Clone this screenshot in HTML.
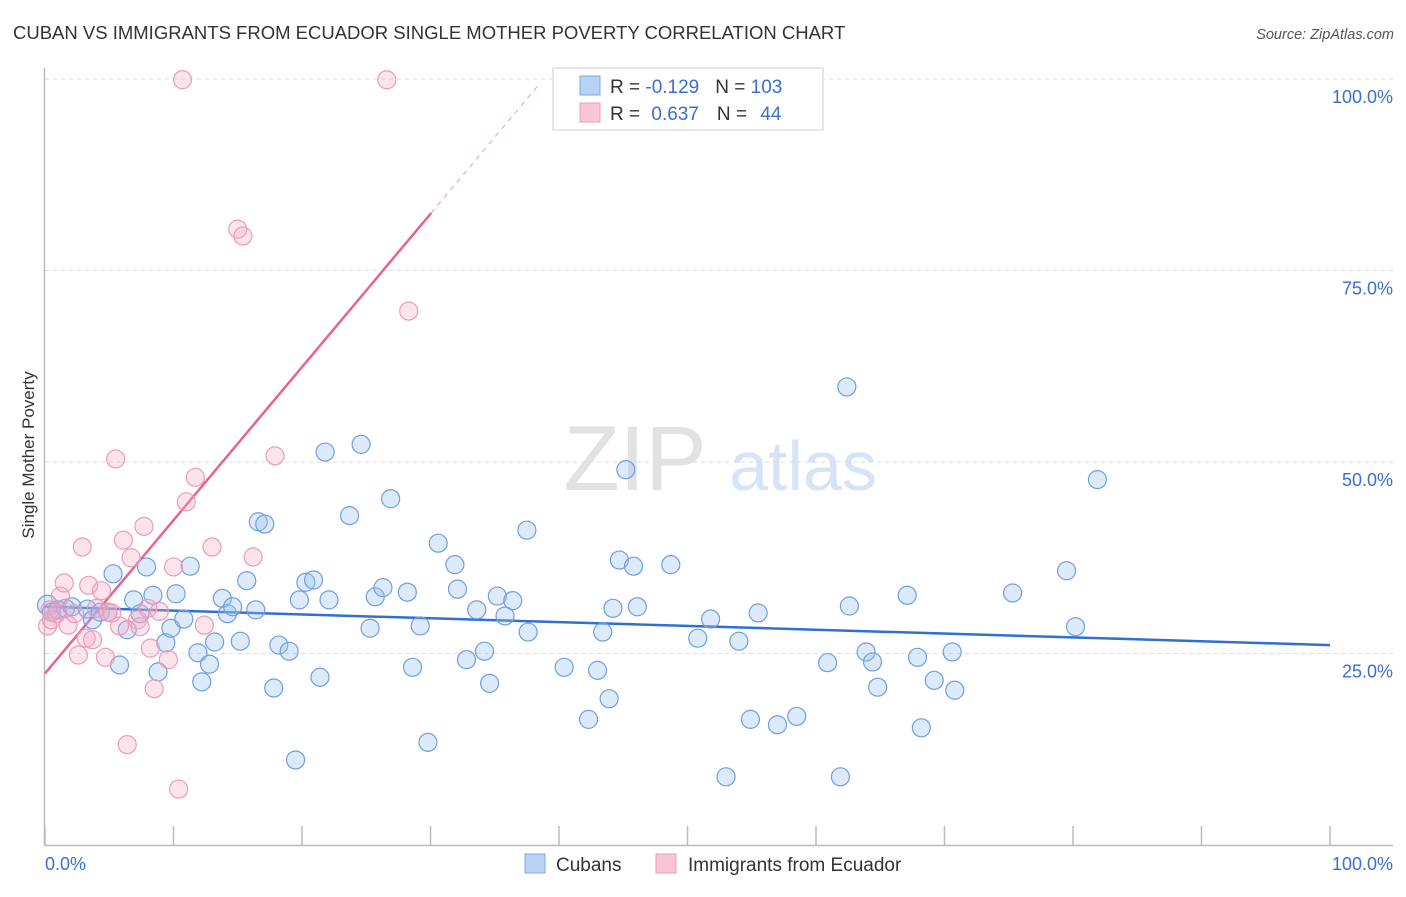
<!DOCTYPE html>
<html><head><meta charset="utf-8"><style>
body{margin:0;background:#fff;font-family:"Liberation Sans",sans-serif;}
svg text{font-family:"Liberation Sans",sans-serif;}
</style></head><body>
<svg id="chart" width="1406" height="892" xmlns="http://www.w3.org/2000/svg">
<text x="13" y="39" font-size="18.5" fill="#333">CUBAN VS IMMIGRANTS FROM ECUADOR SINGLE MOTHER POVERTY CORRELATION CHART</text>
<text x="1394" y="39" font-size="14.5" fill="#555" text-anchor="end" font-style="italic">Source: ZipAtlas.com</text>
<text transform="translate(34,455) rotate(-90)" font-size="17" fill="#333" text-anchor="middle">Single Mother Poverty</text>
<g>
<text x="635" y="490" font-size="92" fill="#e2e2e2" text-anchor="middle" font-family="Liberation Serif" >ZIP</text>
<text x="803" y="490" font-size="70" fill="#d6e4f6" text-anchor="middle">atlas</text>
</g>
<g id="grid"></g><g id="axes"></g><g id="lines"></g><g id="points"></g>
<g>
<rect x="553" y="68" width="270" height="62" fill="#fff" stroke="#ccc"/>
<rect x="580" y="76" width="20" height="19" fill="#b8d2f4" stroke="#7ea9e4"/>
<rect x="580" y="103" width="20" height="19" fill="#f8c6d6" stroke="#ee9cb8"/>
<text x="610" y="93" font-size="19" fill="#333">R = <tspan fill="#3a6fd0">-0.129</tspan><tspan dx="16">N = </tspan><tspan fill="#3a6fd0">103</tspan></text>
<text x="610" y="120" font-size="19" fill="#333">R = <tspan fill="#3a6fd0" dx="6">0.637</tspan><tspan dx="18">N = </tspan><tspan fill="#3a6fd0" dx="8">44</tspan></text>
</g>
<g>
<rect x="525" y="854" width="20" height="19" fill="#b8d2f4" stroke="#7ea9e4"/>
<text x="556" y="871" font-size="19" fill="#333">Cubans</text>
<rect x="656" y="854" width="20" height="19" fill="#f8c6d6" stroke="#ee9cb8"/>
<text x="688" y="871" font-size="19" fill="#333">Immigrants from Ecuador</text>
</g>
</svg>
<script>
const blueX=[0.2,0.5,1.0,1.6,2.1,3.3,3.7,4.3,4.9,5.3,5.8,6.4,6.9,7.4,7.9,8.4,8.8,9.4,9.8,10.2,10.8,11.3,11.9,12.2,12.8,13.2,13.8,14.2,14.6,15.2,15.7,16.4,16.6,17.1,17.8,18.2,19.0,19.5,19.8,20.3,20.9,21.4,21.8,22.1,23.7,24.6,25.3,25.7,26.3,26.9,28.2,28.6,29.2,29.8,30.6,31.9,32.1,32.8,33.6,34.2,34.6,35.2,35.8,36.4,37.5,37.6,40.4,42.3,43.0,43.4,43.9,44.2,44.7,45.2,45.8,46.1,48.7,50.8,51.8,53.0,54.0,54.9,55.5,57.0,58.5,60.9,61.9,62.4,62.6,63.9,64.4,64.8,67.1,67.9,68.2,69.2,70.6,70.8,75.3,79.5,80.2,81.9];
const blueY=[31.3,30.4,30.7,30.9,31.1,30.8,29.4,30.4,30.4,35.4,23.5,28.1,32.0,30.2,36.3,32.6,22.6,26.4,28.3,32.8,29.5,36.4,25.1,21.3,23.6,26.5,32.2,30.2,31.1,26.6,34.5,30.7,42.2,41.9,20.5,26.1,25.3,11.1,32.0,34.3,34.6,21.9,51.3,32.0,43.0,52.3,28.3,32.4,33.6,45.2,33.0,23.2,28.6,13.4,39.4,36.6,33.4,24.2,30.7,25.3,21.1,32.5,29.9,31.9,41.1,27.8,23.2,16.4,22.8,27.8,19.1,30.9,37.2,49.0,36.4,31.1,36.6,27.0,29.5,8.9,26.6,16.4,30.3,15.7,16.8,23.8,8.9,59.8,31.2,25.2,23.9,20.6,32.6,24.5,15.3,21.5,25.2,20.2,32.9,35.8,28.5,47.7];
const pinkX=[0.2,0.4,0.5,0.9,1.2,1.5,1.8,2.3,2.6,2.9,3.2,3.4,3.7,4.0,4.4,4.7,4.9,5.2,5.5,5.8,6.1,6.4,6.7,7.2,7.4,7.7,8.0,8.2,8.5,8.9,9.6,10.0,10.4,10.7,11.0,11.7,12.4,13.0,15.0,15.4,16.2,17.9,26.6,28.3];
const pinkY=[28.6,30.7,29.4,30.2,32.5,34.2,28.7,30.2,24.8,38.9,27.0,33.9,26.8,30.9,33.2,24.5,30.4,30.3,50.4,28.6,39.8,13.1,37.5,29.4,28.5,41.6,30.9,25.7,20.4,30.5,24.2,36.3,7.3,99.9,44.8,48.0,28.7,38.9,80.4,79.5,37.6,50.8,99.9,69.7];
const blueTrend=[31.1,26.1];
const pinkTrend=[22.4,2.0];
const yTicks=[25,50,75,100];
const xTickVals=[0,10,20,30,40,50,60,70,80,90,100];

const NS="http://www.w3.org/2000/svg";
const sx=v=>45+v*12.85, sy=v=>845-v*7.66;
function mk(tag,attrs,parent){const e=document.createElementNS(NS,tag);for(const k in attrs)e.setAttribute(k,attrs[k]);parent.appendChild(e);return e;}
const grid=document.getElementById('grid'),axes=document.getElementById('axes'),lines=document.getElementById('lines'),pts=document.getElementById('points');
yTicks.forEach(t=>{
 const l=mk('line',{x1:45,x2:1393,y1:sy(t),y2:sy(t),stroke:'#ddd','stroke-dasharray':'4,4'},grid);
 
 
 const tx=mk('text',{x:1393,y:sy(t)+24,'font-size':18,fill:'#3a6fd0','text-anchor':'end'},grid);
 tx.textContent=t.toFixed(1)+'%';
 
 
});
const ax=mk('path',{d:'M44.5 68 V845.5 H1393',stroke:'#bbb',fill:'none','stroke-width':1.5},axes);


xTickVals.forEach(t=>{
 const l=mk('line',{x1:sx(t),x2:sx(t),y1:826,y2:845,stroke:'#bbb','stroke-width':1.5},axes);
 
 
});
[[0,'start',45],[100,'end',1393]].forEach(([v,a,x])=>{
 const tx=mk('text',{x:x,y:870,'font-size':18,fill:'#3a6fd0','text-anchor':a},axes);
 tx.textContent=v.toFixed(1)+'%';
 
 
});
const bl=mk('line',{x1:sx(0),y1:sy(blueTrend[0]),x2:sx(100),y2:sy(blueTrend[1]),stroke:'#2f6fd6','stroke-width':2.5},lines);


const pEnd=(82.5-pinkTrend[0])/pinkTrend[1], dEnd=(99.5-pinkTrend[0])/pinkTrend[1];
const pl=mk('line',{x1:sx(0),y1:sy(pinkTrend[0]),x2:sx(pEnd),y2:sy(pinkTrend[0]+pinkTrend[1]*pEnd),stroke:'#e8648e','stroke-width':2.5},lines);


const pd=mk('line',{x1:sx(pEnd),y1:sy(pinkTrend[0]+pinkTrend[1]*pEnd),x2:sx(dEnd),y2:sy(pinkTrend[0]+pinkTrend[1]*dEnd),stroke:'#eeaabf','stroke-width':1.2,'stroke-dasharray':'5,5'},lines);


blueX.forEach((x,i)=>{
 const c=mk('circle',{cx:sx(x),cy:sy(blueY[i]),r:i===0?10:9,fill:'rgba(150,190,240,0.33)',stroke:'#6f9fe0','stroke-width':1.2},pts);
 
 
});
pinkX.forEach((x,i)=>{
 const c=mk('circle',{cx:sx(x),cy:sy(pinkY[i]),r:9,fill:'rgba(245,170,195,0.32)',stroke:'#ef9ab6','stroke-width':1.2},pts);
 
 
});
</script>
</body></html>
